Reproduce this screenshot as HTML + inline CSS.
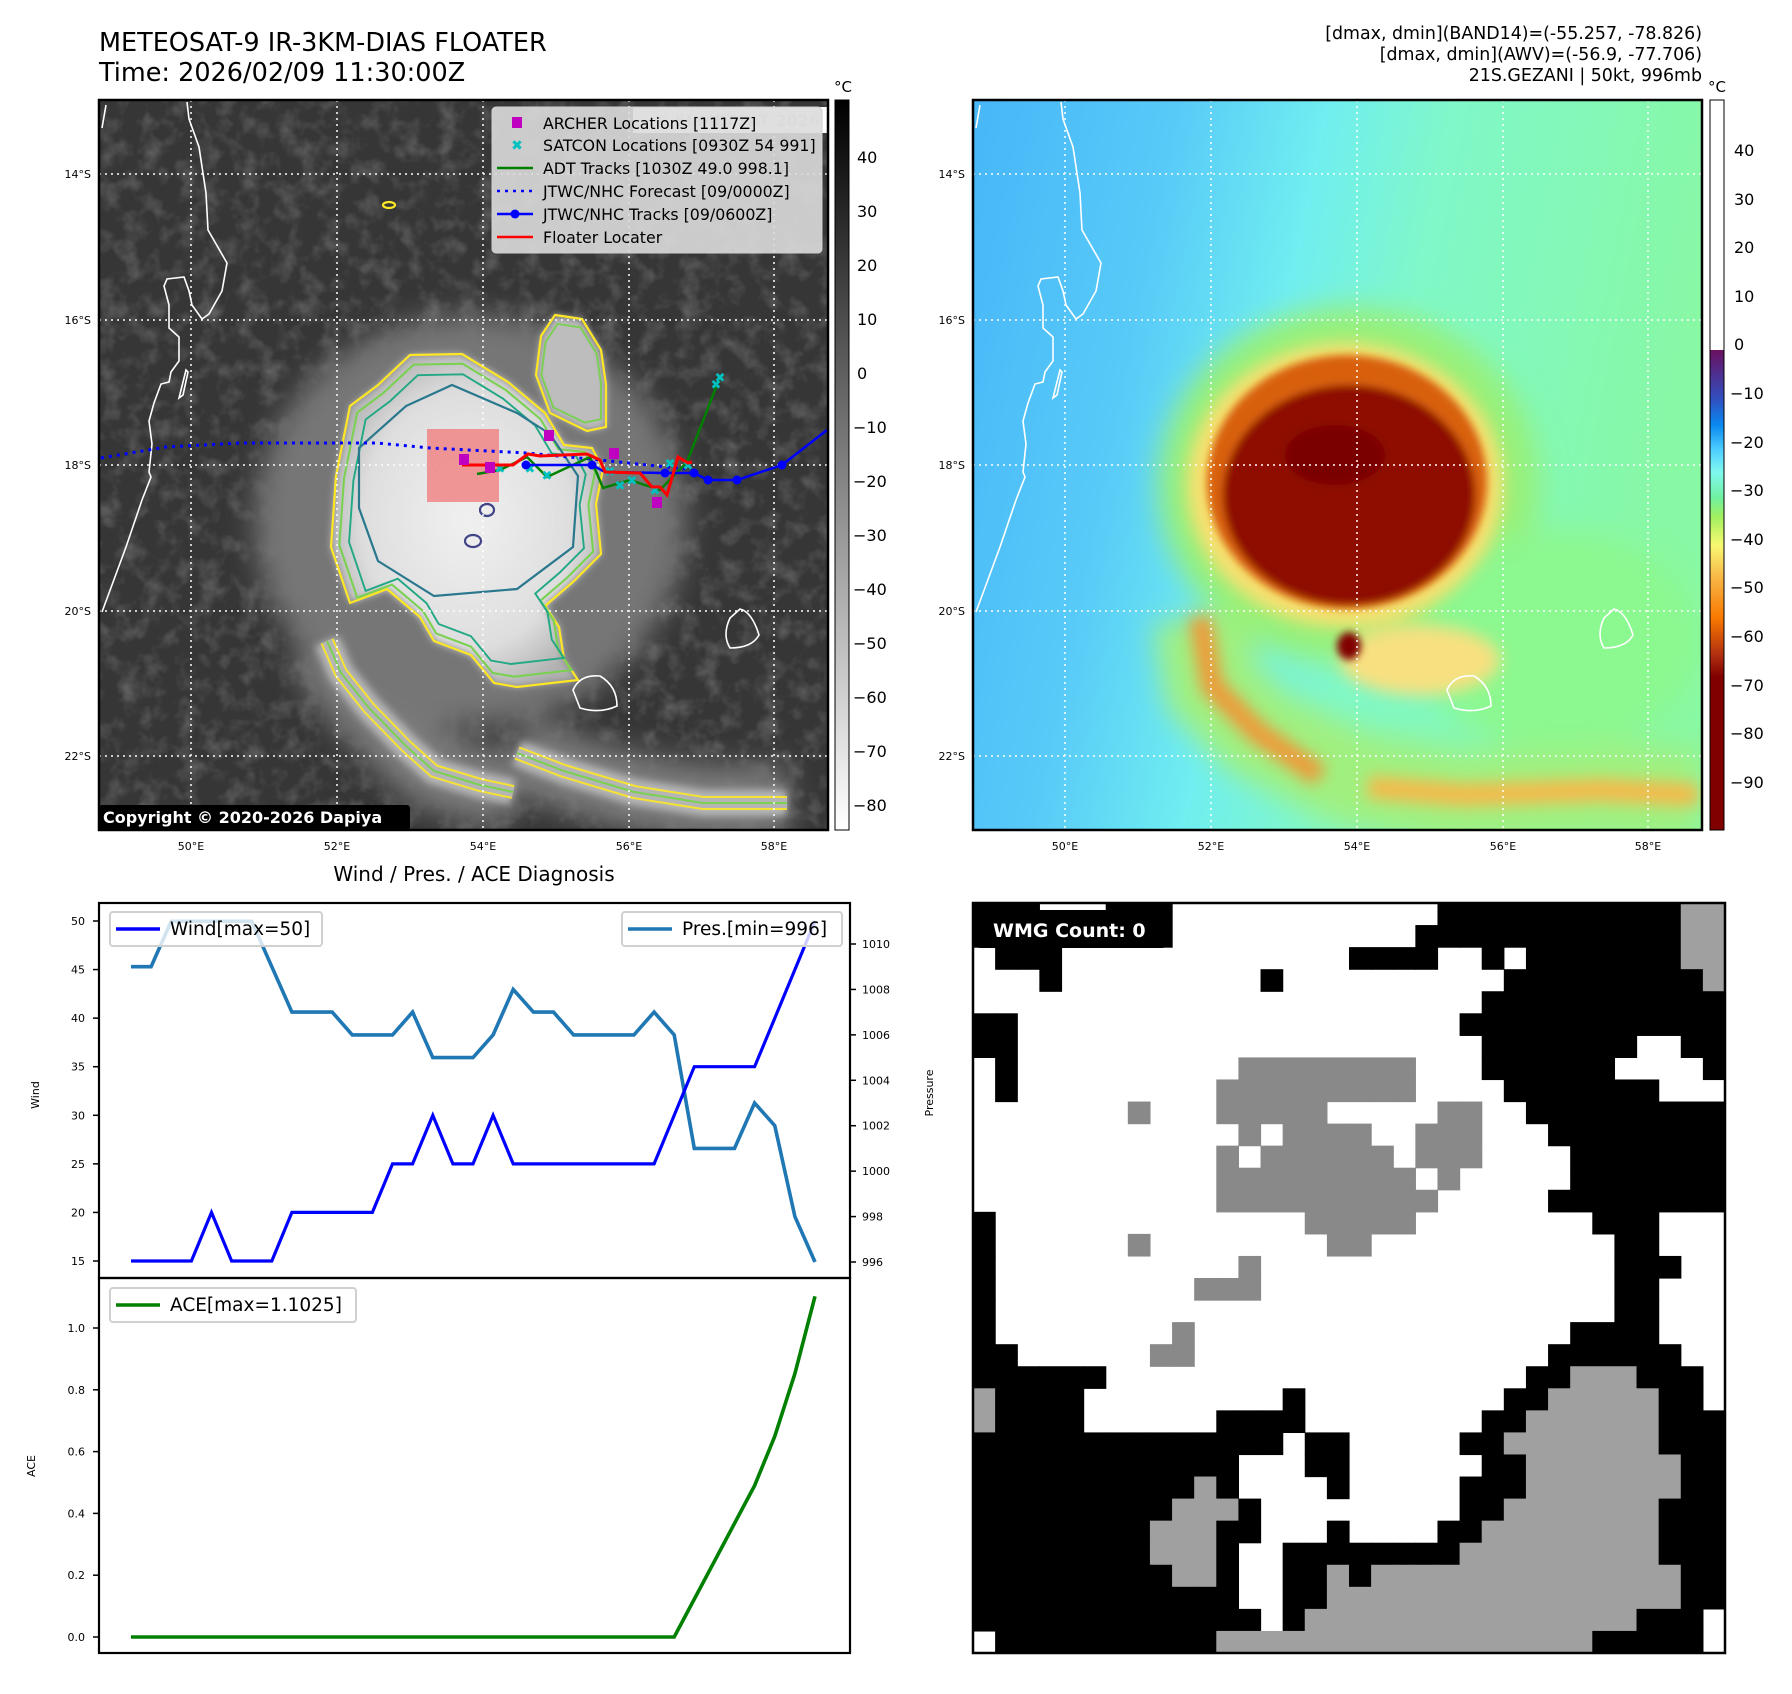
<!DOCTYPE html>
<html><head><meta charset="utf-8">
<style>
html,body{margin:0;padding:0;background:#fff;}
body{width:1792px;height:1690px;overflow:hidden;font-family:"DejaVu Sans","Liberation Sans",sans-serif;}
svg text{font-family:"DejaVu Sans","Liberation Sans",sans-serif;}
</style></head>
<body>
<svg id="root" width="1792" height="1690" viewBox="0 0 1792 1690" xmlns="http://www.w3.org/2000/svg">
<defs>
  <filter id="noise" x="0" y="0" width="1" height="1">
    <feTurbulence type="fractalNoise" baseFrequency="0.05" numOctaves="3" seed="4"/>
    <feColorMatrix type="matrix" values="0 0 0 0 0.32  0 0 0 0 0.32  0 0 0 0 0.32  0 0 0 0.9 -0.4"/>
  </filter>
  <filter id="blur8"><feGaussianBlur stdDeviation="8"/></filter>
  <filter id="blur14"><feGaussianBlur stdDeviation="14"/></filter>
  <filter id="blur4"><feGaussianBlur stdDeviation="4"/></filter>
  <radialGradient id="stormGray" cx="0.5" cy="0.5" r="0.55">
    <stop offset="0" stop-color="#f0f0f0"/><stop offset="0.7" stop-color="#dedede"/><stop offset="1" stop-color="#b0b0b0"/>
  </radialGradient>
  <linearGradient id="cbGray" x1="0" y1="0" x2="0" y2="1">
    <stop offset="0" stop-color="#000"/><stop offset="1" stop-color="#fff"/>
  </linearGradient>
  <linearGradient id="cbColor" x1="0" y1="0" x2="0" y2="1">
    <stop offset="0" stop-color="#fff"/><stop offset="0.3425" stop-color="#fff"/>
    <stop offset="0.3426" stop-color="#6a1060"/>
    <stop offset="0.41" stop-color="#3050c0"/>
    <stop offset="0.445" stop-color="#0a88f0"/>
    <stop offset="0.48" stop-color="#50d0ff"/>
    <stop offset="0.51" stop-color="#80f8f0"/>
    <stop offset="0.545" stop-color="#70f0a0"/>
    <stop offset="0.57" stop-color="#a0f060"/>
    <stop offset="0.61" stop-color="#f8f870"/>
    <stop offset="0.66" stop-color="#f8b040"/>
    <stop offset="0.71" stop-color="#f87800"/>
    <stop offset="0.76" stop-color="#b03010"/>
    <stop offset="0.79" stop-color="#800000"/>
    <stop offset="1" stop-color="#800000"/>
  </linearGradient>
  <linearGradient id="rightBg" x1="0" y1="0.1" x2="1" y2="0.3">
    <stop offset="0" stop-color="#48b8f8"/><stop offset="0.25" stop-color="#58caf8"/>
    <stop offset="0.45" stop-color="#70eef0"/><stop offset="0.62" stop-color="#80f8c8"/><stop offset="1" stop-color="#88f8a4"/>
  </linearGradient>
  <clipPath id="clipL"><rect x="99" y="100" width="729" height="730"/></clipPath>
  <clipPath id="clipR"><rect x="973" y="100" width="729" height="730"/></clipPath>
  <path id="coast" d="M187,102 L189,119 L199,147 L206,193 L208,230 L227,263 L222,291 L209,314 L202,319 L192,305 L189,291 L184,277 L167,279 L164,286 L169,305 L169,328 L179,337 L179,361 L171,372 L169,382 L161,384 L154,403 L149,421 L152,444 L149,472 L151,477 L142,500 L126,547 L102,612 M106,105 L102,128 M186,370 L179,398 L183,395 L188,372 Z"/>
  <path id="storm" d="M410,355 L462,354 L508,382 L545,413 L564,445 L592,448 L603,469 L596,504 L601,554 L573,582 L545,606 L559,627 L564,659 L578,680 L517,687 L494,683 L471,655 L434,641 L420,617 L387,589 L350,603 L331,547 L336,476 L350,406 L378,385 Z"/>
  <path id="lobe" d="M541,336 L555,315 L582,319 L601,350 L606,385 L606,427 L587,431 L550,413 L536,375 Z"/>
  <path id="band" d="M327,641 L341,673 L369,708 L406,746 L434,771 L480,785 L513,792 M517,753 L564,771 L634,792 L703,803 L787,803"/>
</defs>

<text x="99" y="51" font-size="25.5">METEOSAT-9 IR-3KM-DIAS FLOATER</text>
<text x="99" y="81" font-size="25.5">Time: 2026/02/09 11:30:00Z</text>
<g font-size="17.4" text-anchor="end">
  <text x="1702" y="39">[dmax, dmin](BAND14)=(-55.257, -78.826)</text>
  <text x="1702" y="60">[dmax, dmin](AWV)=(-56.9, -77.706)</text>
  <text x="1702" y="81">21S.GEZANI | 50kt, 996mb</text>
</g>

<g clip-path="url(#clipL)">
  <rect x="99" y="100" width="729" height="730" fill="#363636"/>
  <rect x="99" y="100" width="729" height="730" filter="url(#noise)"/>
  <g filter="url(#blur14)">
    <use href="#band" fill="none" stroke="#7a7a7a" stroke-width="75"/>
    <ellipse cx="470" cy="520" rx="215" ry="205" fill="#767676"/>
  </g>
  <g filter="url(#blur4)">
    <use href="#storm" fill="url(#stormGray)"/>
    <use href="#lobe" fill="#bdbdbd"/>
    <use href="#band" fill="none" stroke="#b8b8b8" stroke-width="26"/>
  </g>
  <g fill="none" stroke-width="2.2">
    <use href="#storm" stroke="#fde725"/>
    <use href="#lobe" stroke="#fde725"/>
    <use href="#storm" stroke="#7ad151" transform="translate(470,515) scale(0.94) translate(-470,-515)"/>
    <use href="#lobe" stroke="#7ad151" transform="translate(572,375) scale(0.85) translate(-572,-375)"/>
    <use href="#storm" stroke="#22a884" transform="translate(470,510) scale(0.87) translate(-470,-510)"/>
    <path d="M359,448 L406,406 L452,385 L517,413 L550,434 L578,476 L573,547 L517,589 L434,596 L378,561 L359,508 Z" stroke="#2a788e"/>
    <use href="#band" stroke="#fde725" stroke-width="14" opacity="0.9"/>
    <use href="#band" stroke="#b5b5b5" stroke-width="10"/>
    <use href="#band" stroke="#7ad151" stroke-width="2"/>
    <ellipse cx="473" cy="541" rx="8" ry="6" stroke="#414487"/>
    <ellipse cx="487" cy="510" rx="7" ry="6" stroke="#414487"/>
    <ellipse cx="389" cy="205" rx="6" ry="3" stroke="#fde725"/>
  </g>
  <g stroke="#fff" stroke-width="1.5" stroke-dasharray="2,4">
    <line x1="191" y1="100" x2="191" y2="830"/><line x1="337" y1="100" x2="337" y2="830"/>
    <line x1="483" y1="100" x2="483" y2="830"/><line x1="629" y1="100" x2="629" y2="830"/>
    <line x1="774" y1="100" x2="774" y2="830"/>
    <line x1="99" y1="174" x2="828" y2="174"/><line x1="99" y1="320" x2="828" y2="320"/>
    <line x1="99" y1="465" x2="828" y2="465"/><line x1="99" y1="611" x2="828" y2="611"/>
    <line x1="99" y1="756" x2="828" y2="756"/>
  </g>
  <use href="#coast" fill="none" stroke="#fff" stroke-width="1.6"/>
  <path d="M573,690 Q580,674 600,676 Q617,686 617,706 Q600,714 580,708 Z" fill="none" stroke="#fff" stroke-width="1.6"/>
  <path d="M740,609 Q752,612 759,635 Q752,648 730,648 Q722,635 730,618 Z" fill="none" stroke="#fff" stroke-width="1.6"/>
  <rect x="427" y="429" width="72" height="73" fill="#f08080" opacity="0.8"/>
  <polyline points="101,458 166,447 240,443 377,443 430,448 527,453 600,460 686,469" fill="none" stroke="#0000ff" stroke-width="3" stroke-dasharray="3,5"/>
  <polyline points="477,474 500,470 527,457 547,477 590,457 603,488 630,480 660,490 687,462 720,377" fill="none" stroke="#008000" stroke-width="2.5"/>
  <g fill="#00c0c0" font-size="13" font-weight="bold" text-anchor="middle">
    <text x="500" y="473">✖</text><text x="530" y="473">✖</text><text x="547" y="480">✖</text><text x="610" y="476">✖</text><text x="620" y="490">✖</text><text x="632" y="485">✖</text><text x="655" y="495">✖</text><text x="670" y="468">✖</text><text x="688" y="470">✖</text><text x="716" y="389">✖</text><text x="720" y="382">✖</text>
  </g>
  <g>
    <polyline points="526,465 592,465 605,472 665,473 694,473 708,480 737,480 782,465 827,430" fill="none" stroke="#0000ff" stroke-width="2.5"/>
    <g fill="#0000ff"><circle cx="526" cy="465" r="4.5"/><circle cx="592" cy="465" r="4.5"/><circle cx="665" cy="473" r="4.5"/><circle cx="694" cy="473" r="4.5"/><circle cx="708" cy="480" r="4.5"/><circle cx="737" cy="480" r="4.5"/><circle cx="782" cy="465" r="4.5"/></g>
  </g>
  <polyline points="462,465 513,465 528,454 540,456 587,454 600,460 605,472 640,473 652,487 660,487 667,495 678,457 688,463 692,462" fill="none" stroke="#ff0000" stroke-width="3"/>
  <g fill="#c000c0">
    <rect x="544" y="430" width="10" height="11"/><rect x="609" y="448" width="10" height="11"/><rect x="652" y="497" width="10" height="11"/><rect x="459" y="454" width="10" height="11"/><rect x="485" y="462" width="10" height="11"/>
  </g>
  <rect x="633" y="107" width="195" height="26" fill="#fff"/>
  <text x="820" y="126" font-size="16" font-weight="bold" fill="#d8d8d8" text-anchor="end">© EUMETSAT 2026</text>
  <g>
    <rect x="492" y="107" width="330" height="146" rx="4" fill="#dcdcdc" fill-opacity="0.9" stroke="#cfcfcf"/>
    <rect x="512" y="117" width="10" height="11" fill="#c000c0"/>
    <text x="517" y="150" font-size="14" font-weight="bold" fill="#00c0c0" text-anchor="middle">✖</text>
    <line x1="497" y1="168" x2="533" y2="168" stroke="#008000" stroke-width="2.5"/>
    <line x1="497" y1="191" x2="533" y2="191" stroke="#0000ff" stroke-width="2.5" stroke-dasharray="3,5"/>
    <line x1="497" y1="214" x2="533" y2="214" stroke="#0000ff" stroke-width="2.5"/><circle cx="515" cy="214" r="4.5" fill="#0000ff"/>
    <line x1="497" y1="237" x2="533" y2="237" stroke="#ff0000" stroke-width="2.5"/>
    <g font-size="15.8" fill="#000">
      <text x="543" y="129">ARCHER Locations [1117Z]</text>
      <text x="543" y="151">SATCON Locations [0930Z 54 991]</text>
      <text x="543" y="174">ADT Tracks [1030Z 49.0 998.1]</text>
      <text x="543" y="197">JTWC/NHC Forecast [09/0000Z]</text>
      <text x="543" y="220">JTWC/NHC Tracks [09/0600Z]</text>
      <text x="543" y="243">Floater Locater</text>
    </g>
  </g>
  <rect x="99" y="805" width="311" height="25" rx="3" fill="#000"/>
  <text x="103" y="823" font-size="16" font-weight="bold" fill="#fff">Copyright © 2020-2026 Dapiya</text>
</g>
<rect x="99" y="100" width="729" height="730" fill="none" stroke="#000" stroke-width="2.5"/>

<g>
  <rect x="835" y="100" width="14" height="730" fill="url(#cbGray)" stroke="#000" stroke-width="1"/>
  <text x="843" y="92" font-size="15" text-anchor="middle">°C</text>
  <g font-size="16">
    <text x="857" y="163">40</text><text x="857" y="217">30</text><text x="857" y="271">20</text><text x="857" y="325">10</text><text x="857" y="379">0</text>
    <text x="853" y="433">−10</text><text x="853" y="487">−20</text><text x="853" y="541">−30</text><text x="853" y="595">−40</text><text x="853" y="649">−50</text><text x="853" y="703">−60</text><text x="853" y="757">−70</text><text x="853" y="811">−80</text>
  </g>
</g>

<g font-size="11">
  <text x="91" y="178" text-anchor="end">14°S</text><text x="91" y="324" text-anchor="end">16°S</text><text x="91" y="469" text-anchor="end">18°S</text><text x="91" y="615" text-anchor="end">20°S</text><text x="91" y="760" text-anchor="end">22°S</text>
  <g text-anchor="middle"><text x="191" y="850">50°E</text><text x="337" y="850">52°E</text><text x="483" y="850">54°E</text><text x="629" y="850">56°E</text><text x="774" y="850">58°E</text></g>
</g>

<g clip-path="url(#clipR)">
  <rect x="973" y="100" width="729" height="730" fill="url(#rightBg)"/>
  <g filter="url(#blur14)">
    <path d="M1200,617 L1212,686 L1257,732 L1349,777 L1463,800 L1600,789 L1698,797" fill="none" stroke="#a0f080" stroke-width="95"/>
    <ellipse cx="1349" cy="485" rx="190" ry="178" fill="#98f078"/>
    <ellipse cx="1560" cy="640" rx="140" ry="110" fill="#8cf890"/>
  </g>
  <g filter="url(#blur8)">
    <ellipse cx="1345" cy="485" rx="158" ry="142" fill="#f8e070"/>
    <path d="M1200,617 L1212,686 L1257,732 L1320,776" fill="none" stroke="#f09838" stroke-width="22"/>
    <path d="M1368,787 L1463,795 L1600,790 L1698,795" fill="none" stroke="#f8b848" stroke-width="22"/>
    <ellipse cx="1420" cy="660" rx="80" ry="35" fill="#f8e080"/>
  </g>
  <g filter="url(#blur4)">
    <ellipse cx="1347" cy="482" rx="140" ry="127" fill="#d86010"/>
    <ellipse cx="1349" cy="495" rx="126" ry="110" fill="#8e0c00"/>
    <ellipse cx="1335" cy="455" rx="50" ry="30" fill="#7a0000"/>
    <ellipse cx="1349" cy="646" rx="12" ry="14" fill="#800000"/>
  </g>
  <g stroke="#fff" stroke-width="1.5" stroke-dasharray="2,4">
    <line x1="1065" y1="100" x2="1065" y2="830"/><line x1="1211" y1="100" x2="1211" y2="830"/>
    <line x1="1357" y1="100" x2="1357" y2="830"/><line x1="1503" y1="100" x2="1503" y2="830"/>
    <line x1="1648" y1="100" x2="1648" y2="830"/>
    <line x1="973" y1="174" x2="1702" y2="174"/><line x1="973" y1="320" x2="1702" y2="320"/>
    <line x1="973" y1="465" x2="1702" y2="465"/><line x1="973" y1="611" x2="1702" y2="611"/>
    <line x1="973" y1="756" x2="1702" y2="756"/>
  </g>
  <g transform="translate(874,0)" fill="none" stroke="#fff" stroke-width="1.6">
    <use href="#coast"/>
    <path d="M573,690 Q580,674 600,676 Q617,686 617,706 Q600,714 580,708 Z"/>
    <path d="M740,609 Q752,612 759,635 Q752,648 730,648 Q722,635 730,618 Z"/>
  </g>
</g>
<rect x="973" y="100" width="729" height="730" fill="none" stroke="#000" stroke-width="2.5"/>
<g font-size="11">
  <text x="965" y="178" text-anchor="end">14°S</text><text x="965" y="324" text-anchor="end">16°S</text><text x="965" y="469" text-anchor="end">18°S</text><text x="965" y="615" text-anchor="end">20°S</text><text x="965" y="760" text-anchor="end">22°S</text>
  <g text-anchor="middle"><text x="1065" y="850">50°E</text><text x="1211" y="850">52°E</text><text x="1357" y="850">54°E</text><text x="1503" y="850">56°E</text><text x="1648" y="850">58°E</text></g>
</g>
<g>
  <rect x="1710" y="100" width="14" height="730" fill="url(#cbColor)" stroke="#000" stroke-width="1"/>
  <text x="1717" y="92" font-size="15" text-anchor="middle">°C</text>
  <g font-size="16">
    <text x="1734" y="156">40</text><text x="1734" y="205">30</text><text x="1734" y="253">20</text><text x="1734" y="302">10</text><text x="1734" y="350">0</text>
    <text x="1730" y="399">−10</text><text x="1730" y="448">−20</text><text x="1730" y="496">−30</text><text x="1730" y="545">−40</text><text x="1730" y="593">−50</text><text x="1730" y="642">−60</text><text x="1730" y="691">−70</text><text x="1730" y="739">−80</text><text x="1730" y="788">−90</text>
  </g>
</g>

<text x="474" y="881" font-size="20" text-anchor="middle">Wind / Pres. / ACE Diagnosis</text>
<g id="chart"></g>
<g id="wmg"></g>
</svg>

<script>
const windValues = [15,15,15,15,20,15,15,15,20,20,20,20,20,25,25,30,25,25,30,25,25,25,25,25,25,25,25,30,35,35,35,35,40,45,50];
const presValues = [1009,1009,1011,1011,1011,1011,1011,1009,1007,1007,1007,1006,1006,1006,1007,1005,1005,1005,1006,1008,1007,1007,1006,1006,1006,1006,1007,1006,1001,1001,1001,1003,1002,998,996];
const aceValues = [0,0,0,0,0,0,0,0,0,0,0,0,0,0,0,0,0,0,0,0,0,0,0,0,0,0,0,0,0.1225,0.245,0.3675,0.49,0.65,0.8525,1.1025];
const windTicks = [15,20,25,30,35,40,45,50];
const presTicks = [996,998,1000,1002,1004,1006,1008,1010];
const aceTicks = [0.0,0.2,0.4,0.6,0.8,1.0];

const NS = "http://www.w3.org/2000/svg";
const chart = document.getElementById('chart');
function mk(tag, attrs, parent){const e=document.createElementNS(NS,tag);for(const k in attrs)e.setAttribute(k,attrs[k]);(parent||chart).appendChild(e);return e;}
const X0=131, X1=815;
function xAt(i){return X0+i*(X1-X0)/(windValues.length-1);}
function yWind(v){return 921+(50-v)*(1261-921)/35;}
function yPres(p){return 944+(1010-p)*(1262-944)/14;}
function yAce(a){return 1637-a*309;}

let fr=mk('rect',{x:99,y:903,width:751,height:375,fill:'none',stroke:'#000','stroke-width':2.2});


fr=mk('rect',{x:99,y:1278,width:751,height:375,fill:'none',stroke:'#000','stroke-width':2.2});



function tick(x1,y,x2,label,tx,anchor,name){
  mk('line',{x1:x1,y1:y,x2:x2,y2:y,stroke:'#000','stroke-width':1.5});
  const t=mk('text',{x:tx,y:y+4,'font-size':11,'text-anchor':anchor});
  t.textContent=label;
  
  
}
windTicks.forEach(v=>tick(93,yWind(v),99,String(v),85,'end','wind-tick-label'));
presTicks.forEach(v=>tick(850,yPres(v),856,String(v),862,'start','pressure-tick-label'));
aceTicks.forEach(v=>tick(93,yAce(v),99,v.toFixed(1),85,'end','ace-tick-label'));

let lab=mk('text',{x:0,y:0,'font-size':11,'text-anchor':'middle',transform:'translate(39,1095) rotate(-90)'});lab.textContent='Wind';


lab=mk('text',{x:0,y:0,'font-size':11,'text-anchor':'middle',transform:'translate(933,1093) rotate(-90)'});lab.textContent='Pressure';


lab=mk('text',{x:0,y:0,'font-size':11,'text-anchor':'middle',transform:'translate(35,1466) rotate(-90)'});lab.textContent='ACE';



function line(vals,yf,color,w,name){
  const pts=vals.map((v,i)=>xAt(i).toFixed(1)+','+yf(v).toFixed(1)).join(' ');
  const p=mk('polyline',{points:pts,fill:'none',stroke:color,'stroke-width':w,'stroke-linejoin':'miter'});
  
  
}
line(presValues,yPres,'#1f77b4',3.6,'pressure-line');
line(windValues,yWind,'#0000ff',3.2,'wind-line');
line(aceValues,yAce,'#008000',3.6,'ace-line');

function legend(x,y,w,color,label,name){
  const g=mk('g',{});
  
  
  mk('rect',{x:x,y:y,width:w,height:34,rx:3,fill:'#fff','fill-opacity':0.8,stroke:'#d0d0d0','stroke-width':2},g);
  mk('line',{x1:x+6,y1:y+17,x2:x+50,y2:y+17,stroke:color,'stroke-width':3.6},g);
  const t=mk('text',{x:x+60,y:y+23,'font-size':18.5},g);t.textContent=label;
}
legend(110,912,212,'#0000ff','Wind[max=50]','wind-legend');
legend(622,912,220,'#1f77b4','Pres.[min=996]','pressure-legend');
legend(110,1288,246,'#008000','ACE[max=1.1025]','ace-legend');

const wmgRows = [
"3#3.3#12.11#2h",
"9#11.12#2h",
"1.3#13.4#2.1#1.7#2h",
"3.1#9.1#10.9#1h",
"23.11#",
"2#20.12#",
"2#21.7#2.2#",
"1.1#10.8g3.6#4.1#",
"1.1#9.9g4.7#3.",
"7.1g3.5g5.2g2.9#",
"12.1g1.4g2.3g3.8#",
"11.1g1.6g1.3g4.7#",
"11.9g1.1g5.7#",
"11.10g5.8#",
"1#14.5g8.3#3.",
"1#6.1g8.2g11.2#3.",
"1#11.1g16.3#2.",
"1#9.3g16.2#3.",
"1#28.2#3.",
"1#8.1g17.4#3.",
"2#6.2g16.6#2.",
"6#19.2#3h3#1.",
"1h4#9.1#9.2#5h2#1.",
"1h4#6.4#8.2#6h3#",
"14#1.2#5.2#7h3#",
"12#3.2#6.2#7h2#",
"10#1h1#4.1#5.3#7h2#",
"9#3h1#9.2#7h3#",
"8#3h2#3.1#4.2#8h3#",
"8#3h1#2.8#9h3#",
"9#2h1#2.2#1h1#14h2#",
"12#2.2#16h2#",
"13#1.1#15h3#1.",
"1.10#17h5#1."
];
const wmg=document.getElementById('wmg');
const PX=973, PY=903, PW=752, PH=750, N=34;
const cw=PW/N, ch=PH/N;
mk('rect',{x:PX,y:PY,width:PW,height:PH,fill:'#fff'},wmg);
const colorMap={'#':'#000','g':'#898989','h':'#a0a0a0'};
function expand(s){let out='';s.replace(/(\d+)([#.gh])/g,(m,n,c)=>{out+=c.repeat(+n);});return out;}
wmgRows.forEach((enc,r)=>{
  const row=expand(enc);
  for(let c=0;c<N;c++){
    const k=row[c]; if(!k||k==='.')continue;
    const cell=mk('rect',{x:(PX+c*cw).toFixed(2),y:(PY+r*ch).toFixed(2),width:(cw+0.6).toFixed(2),height:(ch+0.6).toFixed(2),fill:colorMap[k]},wmg);
    
    
  }
});
mk('rect',{x:PX,y:PY,width:PW,height:PH,fill:'none',stroke:'#000','stroke-width':2.5},wmg);
const lb=mk('rect',{x:PX+3,y:PY+7,width:190,height:38,rx:4,fill:'#000'},wmg);


const lt=mk('text',{x:PX+20,y:PY+34,'font-size':19,'font-weight':'bold',fill:'#fff'},wmg);
lt.textContent='WMG Count: 0';


</script>
</body></html>
